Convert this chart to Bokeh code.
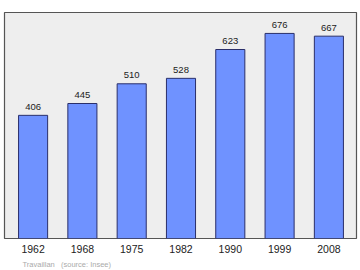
from bokeh.plotting import figure
from bokeh.models import ColumnDataSource, Range1d, FixedTicker, Title
from bokeh.embed import file_html
from bokeh.resources import INLINE
from bokeh.core.properties import value

years = ["1962", "1968", "1975", "1982", "1990", "1999", "2008"]
population = [406, 445, 510, 528, 623, 676, 667]
source_note = "Travaillan\u00a0\u00a0\u00a0(source: Insee)"

idx = list(range(len(years)))
src = ColumnDataSource(dict(x=idx, top=population, lab=[str(v) for v in population]))

p = figure(width=360, height=270, output_backend="svg", toolbar_location=None,
           x_range=Range1d(-0.58, 6.56), y_range=Range1d(0, 745),
           min_border_left=4, min_border_right=4, min_border_top=12, min_border_bottom=0)
p.background_fill_color = "#eeeeee"
p.border_fill_color = "white"
p.outline_line_color = "#555555"
p.outline_line_width = 1.2
p.grid.visible = False
p.yaxis.visible = False

p.vbar(x="x", top="top", width=0.59, bottom=0, source=src,
       fill_color="#6f92ff", line_color="#2a2f6a", line_width=1)
p.text(x="x", y="top", text="lab", source=src, text_align="center",
       text_baseline="alphabetic", y_offset=-8.5, text_font=value("Liberation Sans"),
       text_font_size="9.5px", text_color="#222222")

p.xaxis.ticker = FixedTicker(ticks=idx)
p.xaxis.major_label_overrides = {i: y for i, y in enumerate(years)}
p.xaxis.axis_line_color = None
p.xaxis.major_tick_line_color = None
p.xaxis.minor_tick_line_color = None
p.xaxis.major_tick_out = 0
p.xaxis.major_tick_in = 0
p.xaxis.major_label_standoff = 6
p.xaxis.major_label_text_font = "Liberation Sans"
p.xaxis.major_label_text_font_size = "10.5px"
p.xaxis.major_label_text_color = "#222222"

note = Title(text=source_note, align="left", offset=18, standoff=4,
             text_font="Liberation Sans", text_font_size="7.5px",
             text_font_style="normal", text_color="#aaaaaa")
p.add_layout(note, "below")

open("out.html", "w").write(file_html(p, INLINE))
